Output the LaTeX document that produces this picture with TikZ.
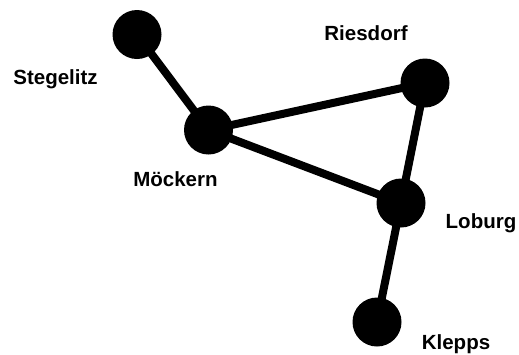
\documentclass[tikz,border=0pt]{standalone}
\usepackage{fontspec}
\setmainfont{Liberation Sans}
\begin{document}
\begin{tikzpicture}[x=1pt,y=-1pt,
  town/.style={circle,fill=black,inner sep=0pt,minimum size=49pt},
  road/.style={line width=8pt},
  lab/.style={font=\fontsize{20.5}{24}\selectfont\bfseries,inner sep=0pt}]
\useasboundingbox (0,0) rectangle (519,354);
\node[town] (s) at (137,34.5) {};
\node[town] (m) at (208.5,130) {};
\node[town] (r) at (425,83) {};
\node[town] (l) at (401,203) {};
\node[town] (k) at (377,322) {};
\draw[road] (s.center) -- (m.center);
\draw[road] (m.center) -- (r.center);
\draw[road] (m.center) -- (l.center);
\draw[road] (r.center) -- (l.center);
\draw[road] (l.center) -- (k.center);
\node[lab] (ls) at (55.5,79) {Stegelitz};
\node[lab] (lm) at (175.5,179) {Möckern};
\node[lab] (lr) at (366,33) {Riesdorf};
\node[lab] (ll) at (481,223) {Loburg};
\node[lab] (lk) at (456,344) {Klepps};
\end{tikzpicture}
\end{document}
